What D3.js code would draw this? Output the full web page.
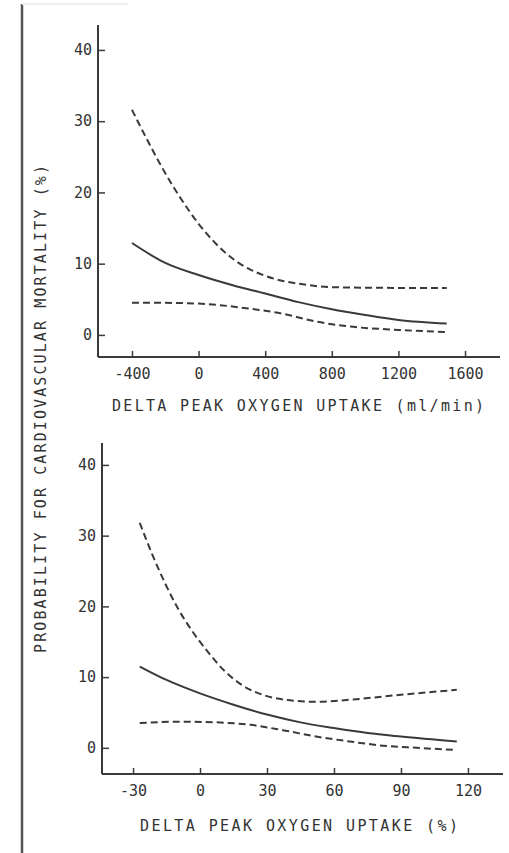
<!DOCTYPE html>
<html>
<head>
<meta charset="utf-8">
<script src="https://cdn.jsdelivr.net/npm/d3@7"></script>
<style>
  body { margin: 0; background: #fff; }
  text { font-family: "DejaVu Sans Mono", "Liberation Mono", monospace; fill: #333; }
</style>
</head>
<body>
<div id="chart"></div>
<script>
// Top panel: absolute change in peak oxygen uptake (ml/min)
const topX = [-400, -200, 0, 200, 400, 600, 800, 1000, 1200, 1490];
const topMid = [12.9, 10.1, 8.4, 7.0, 5.8, 4.6, 3.6, 2.8, 2.1, 1.6];
const topUpperX = [-400, -300, -200, -100, 0, 100, 200, 300, 400, 500, 600, 800, 1200, 1490];
const topUpper = [31.6, 27.0, 22.7, 18.9, 15.6, 12.9, 10.8, 9.3, 8.3, 7.6, 7.2, 6.7, 6.6, 6.6];
const topLowerX = [-400, -200, 0, 300, 500, 700, 900, 1200, 1500];
const topLower = [4.5, 4.5, 4.4, 3.7, 3.0, 1.9, 1.2, 0.7, 0.4];
const topTicks = [-400, 0, 400, 800, 1200, 1600];

// Bottom panel: relative change in peak oxygen uptake (%)
const botX = [-27, -15, 0, 15, 30, 45, 60, 75, 90, 115];
const botMid = [11.5, 9.6, 7.7, 6.1, 4.7, 3.6, 2.8, 2.1, 1.6, 0.9];
const botUpperX = [-27, -21.6, -15.7, -9.7, -3.7, 3.7, 11.2, 18.7, 29, 41, 52, 67, 90, 115];
const botUpper = [31.8, 27.5, 23.3, 19.6, 16.6, 13.5, 10.8, 8.9, 7.4, 6.7, 6.5, 6.8, 7.5, 8.2];
const botLowerX = [-27, -7.5, 7.5, 22.5, 37, 52, 67, 82, 97, 115];
const botLower = [3.5, 3.7, 3.6, 3.25, 2.5, 1.6, 0.9, 0.3, 0.0, -0.3];
const botTicks = [-30, 0, 30, 60, 90, 120];

const yTicks = [0, 10, 20, 30, 40];
const yTitle = "PROBABILITY FOR CARDIOVASCULAR MORTALITY (%)";

const W = 509, H = 853;
const ink = "#3a3a3a";

const svg = d3.select("#chart").append("svg")
  .attr("width", W)
  .attr("height", H);

// page edge on the left of the scan
svg.append("line")
  .attr("x1", 22).attr("x2", 22)
  .attr("y1", 4).attr("y2", H)
  .attr("stroke", "#555").attr("stroke-width", 2.5);
svg.append("line")
  .attr("x1", 22).attr("x2", 128)
  .attr("y1", 4).attr("y2", 4)
  .attr("stroke", "#eee").attr("stroke-width", 2);

function drawPanel(p) {
  const x = d3.scaleLinear().domain(p.xDomain).range([p.left, p.right]);
  const y = d3.scaleLinear().domain(p.yDomain).range([p.bottom, p.top]);
  const g = svg.append("g");

  // axes
  g.append("g")
    .attr("transform", `translate(0,${p.bottom})`)
    .call(d3.axisBottom(x).tickValues(p.xTicks).tickSize(-6).tickFormat(d3.format("d")))
    .call(a => a.selectAll(".tick line").attr("stroke", ink).attr("stroke-width", 1.5))
    .call(a => a.selectAll(".tick text").attr("y", 22).attr("dy", 0)
      .attr("font-size", 15).attr("fill", ink)
      .text(d => d < 0 ? "-" + Math.abs(d) : d));

  g.append("g")
    .attr("transform", `translate(${p.left},0)`)
    .call(d3.axisLeft(y).tickValues(yTicks).tickSize(-7))
    .call(a => a.selectAll(".tick line").attr("stroke", ink).attr("stroke-width", 1.5))
    .call(a => a.selectAll(".tick text").attr("x", -6)
      .attr("font-size", 15).attr("fill", ink));

  g.selectAll(".domain").remove();
  g.append("line")
    .attr("x1", p.left).attr("x2", p.right)
    .attr("y1", p.bottom).attr("y2", p.bottom)
    .attr("stroke", ink).attr("stroke-width", 2);
  g.append("line")
    .attr("x1", p.left).attr("x2", p.left)
    .attr("y1", p.top).attr("y2", p.bottom)
    .attr("stroke", ink).attr("stroke-width", 2);

  // x-axis title
  g.append("text")
    .attr("x", p.titleX)
    .attr("y", p.titleY)
    .attr("text-anchor", "middle")
    .attr("font-size", 15)
    .attr("textLength", p.titleLen)
    .attr("lengthAdjust", "spacing")
    .attr("fill", ink)
    .text(p.title);

  const line = d3.line()
    .x(d => x(d[0]))
    .y(d => y(d[1]))
    .curve(d3.curveMonotoneX);

  const series = [
    { xs: p.upperX, ys: p.upper, dash: "7,4" },
    { xs: p.lowerX, ys: p.lower, dash: "7,4" },
    { xs: p.midX, ys: p.mid, dash: null }
  ];
  series.forEach(s => {
    g.append("path")
      .datum(s.xs.map((v, i) => [v, s.ys[i]]))
      .attr("d", line)
      .attr("fill", "none")
      .attr("stroke", ink)
      .attr("stroke-width", 2)
      .attr("stroke-dasharray", s.dash);
  });
}

drawPanel({
  xDomain: [-604, 1810], yDomain: [-3.1, 43.5],
  left: 98, right: 500, top: 25, bottom: 357,
  xTicks: topTicks,
  midX: topX, mid: topMid,
  upperX: topUpperX, upper: topUpper,
  lowerX: topLowerX, lower: topLower,
  title: "DELTA PEAK OXYGEN UPTAKE (ml/min)",
  titleX: 298, titleY: 411, titleLen: 372
});

drawPanel({
  xDomain: [-43.9, 135.7], yDomain: [-3.7, 43.1],
  left: 102, right: 503, top: 443, bottom: 774,
  xTicks: botTicks,
  midX: botX, mid: botMid,
  upperX: botUpperX, upper: botUpper,
  lowerX: botLowerX, lower: botLower,
  title: "DELTA PEAK OXYGEN UPTAKE (%)",
  titleX: 299, titleY: 831, titleLen: 318
});

// shared y-axis title
svg.append("text")
  .attr("transform", "translate(46,409) rotate(-90)")
  .attr("text-anchor", "middle")
  .attr("font-size", 15)
  .attr("textLength", 488)
  .attr("lengthAdjust", "spacing")
  .attr("fill", ink)
  .text(yTitle);
</script>
</body>
</html>
